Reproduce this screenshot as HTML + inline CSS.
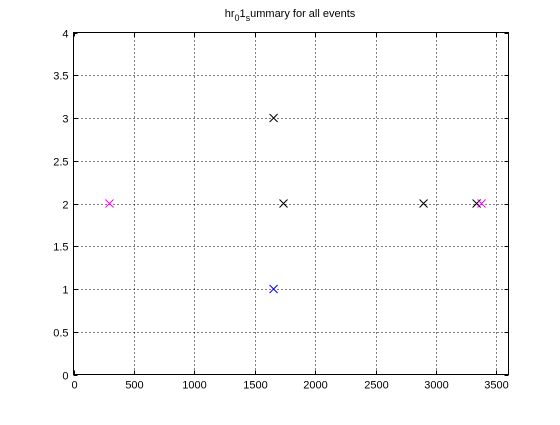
<!DOCTYPE html>
<html><head><meta charset="utf-8"><style>
body{margin:0;background:#fff;}
svg text{font-family:"Liberation Sans",sans-serif;font-size:11px;fill:#000;}
</style></head><body>
<svg id="chart" width="560" height="420" xmlns="http://www.w3.org/2000/svg">
<rect width="560" height="420" fill="#fff"/>
<text x="290" y="17" text-anchor="middle">hr<tspan dy="4" font-size="9">0</tspan><tspan dy="-4">1</tspan><tspan dy="4" font-size="9">s</tspan><tspan dy="-4">ummary for all events</tspan></text>
<g id="grid" shape-rendering="crispEdges"></g>
<g id="ticks" shape-rendering="crispEdges"></g>
<rect x="73.5" y="32.5" width="435" height="342" fill="none" stroke="#000" stroke-width="1" shape-rendering="crispEdges"/>
<g id="marks"></g>
</svg>
<script>
const xTicks=[0,500,1000,1500,2000,2500,3000,3500];
const yTicks=[0,0.5,1,1.5,2,2.5,3,3.5,4];
const yTickLabels=["0","0.5","1","1.5","2","2.5","3","3.5","4"];
const ptX=[1656,1738,2897,3336,298,3377,1656];
const ptY=[3,2,2,2,2,2,1];
const ptColor=["#000","#000","#000","#000","#f0f","#f0f","#00f"];
const L=73.5,R=508.5,T=32.5,B=374.5;
const xs=v=>L+(v/3600)*(R-L);
const ys=v=>B-(v/4)*(B-T);
const NS="http://www.w3.org/2000/svg";
const grid=document.getElementById('grid'),ticks=document.getElementById('ticks'),marks=document.getElementById('marks');
function mk(tag,attrs,parent){const e=document.createElementNS(NS,tag);for(const k in attrs)e.setAttribute(k,attrs[k]);parent.appendChild(e);return e;}
xTicks.forEach((v,i)=>{const x=Math.round(xs(v))+0.5;
 if(v>0){const g=mk('line',{x1:x,x2:x,y1:T,y2:B,stroke:'#000','stroke-dasharray':'1,3','stroke-width':1},grid);
 
 }
 const t1=mk('line',{x1:x,x2:x,y1:B,y2:B-4,stroke:'#000'},ticks);
 
 
 const t2=mk('line',{x1:x,x2:x,y1:T,y2:T+4,stroke:'#000'},ticks);
 
 
 const tx=mk('text',{x:x,y:B+14,'text-anchor':'middle'},ticks);tx.textContent=String(v);
 
 
});
yTicks.forEach((v,i)=>{const y=Math.round(ys(v))+0.5;
 if(v>0&&v<4){const g=mk('line',{x1:L,x2:R,y1:y,y2:y,stroke:'#000','stroke-dasharray':'1,3','stroke-width':1},grid);
 
 }
 const t1=mk('line',{x1:L,x2:L+4,y1:y,y2:y,stroke:'#000'},ticks);
 
 
 const t2=mk('line',{x1:R,x2:R-4,y1:y,y2:y,stroke:'#000'},ticks);
 
 
 const tx=mk('text',{x:L-5,y:y+4,'text-anchor':'end'},ticks);tx.textContent=yTickLabels[i];
 
 
});
ptX.forEach((v,i)=>{const x=xs(v),y=ys(ptY[i]),s=4;
 const p=mk('path',{d:`M${x-s},${y-s}L${x+s},${y+s}M${x-s},${y+s}L${x+s},${y-s}`,stroke:ptColor[i],'stroke-width':1,fill:'none'},marks);
 
 
});
</script>
</body></html>
